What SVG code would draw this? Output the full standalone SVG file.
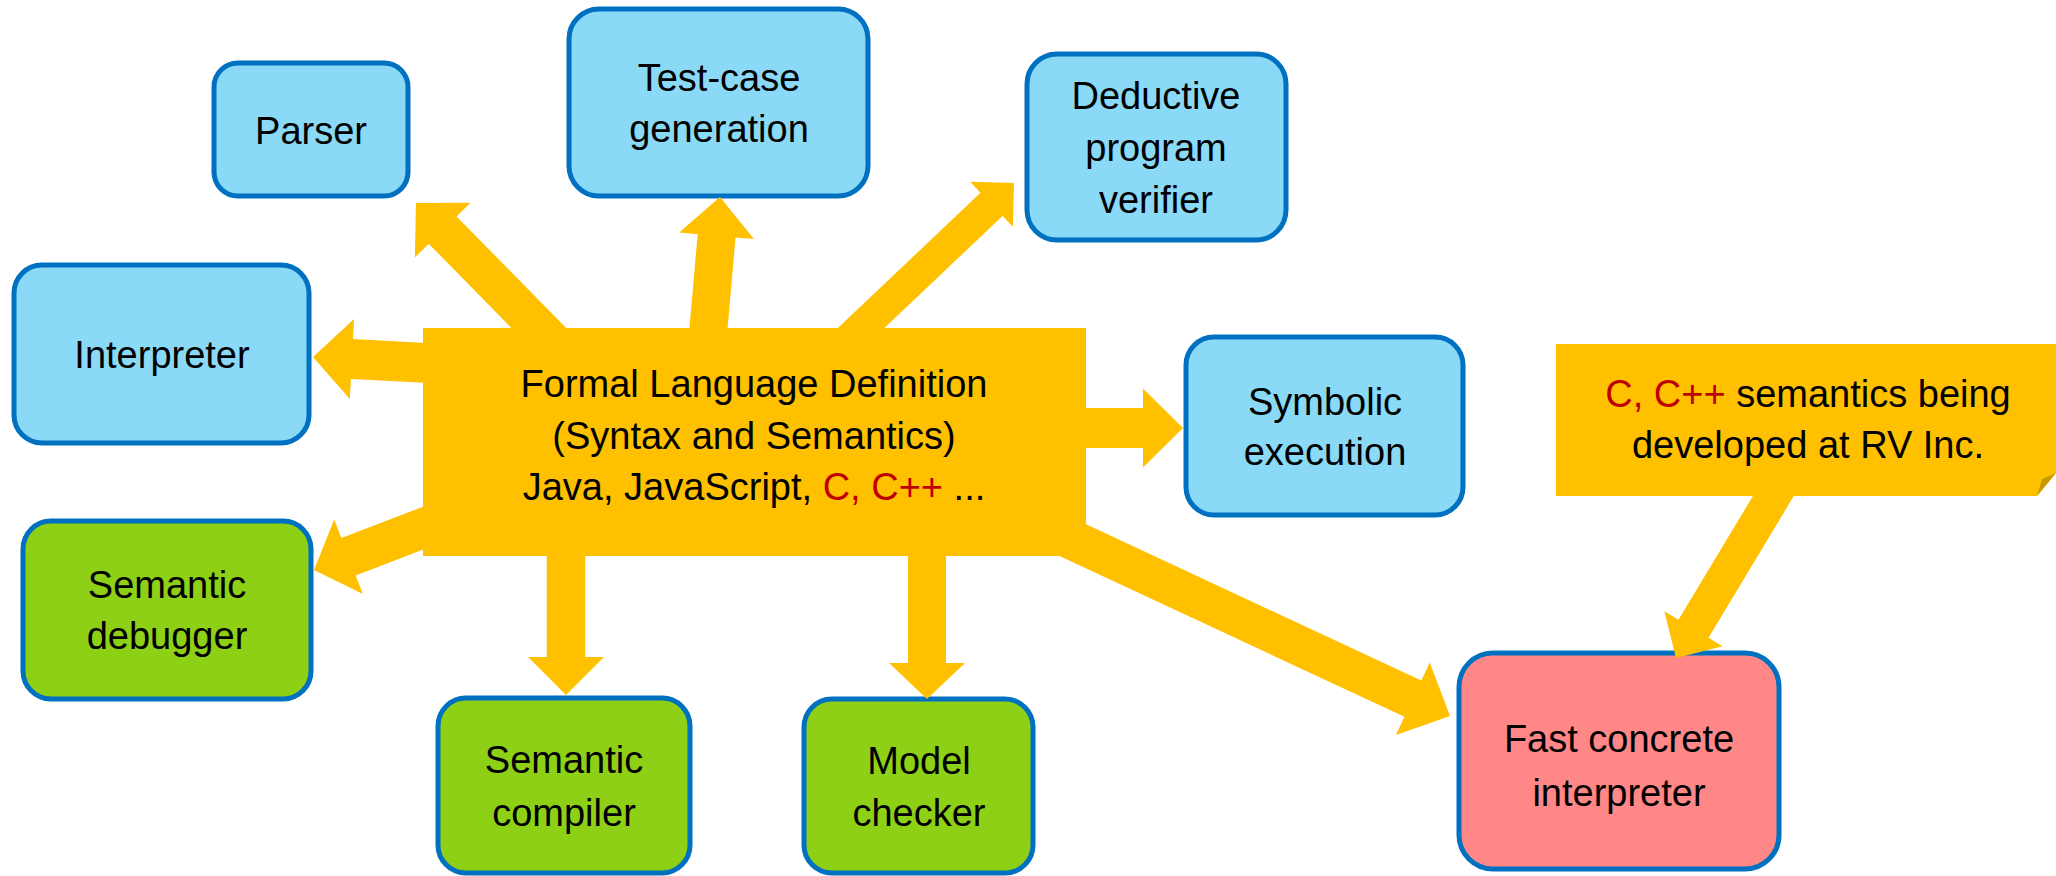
<svg xmlns="http://www.w3.org/2000/svg" width="2056" height="876" viewBox="0 0 2056 876">
<style>
  text { font-family: "Liberation Sans", Arial, sans-serif; font-size: 38px; fill: #000; text-anchor: middle; }
  .red { fill: #C00000; }
  .box { stroke: #0070C0; stroke-width: 5; }
  .blue { fill: #89D9F7; }
  .green { fill: #8ED016; }
  .pink { fill: #FF8787; }
  .orange { fill: #FFC000; }
  .arrow { fill: #FFC000; }
</style>
<rect x="0" y="0" width="2056" height="876" fill="#FFFFFF"/>

<g id="node-parser">
  <rect class="box blue" x="214" y="63" width="194" height="133" rx="24"/>
  <text x="311" y="144">Parser</text>
</g>
<g id="node-testcase">
  <rect class="box blue" x="569" y="9" width="299" height="187" rx="30"/>
  <text x="719" y="91">Test-case</text>
  <text x="719" y="142">generation</text>
</g>
<g id="node-deductive">
  <rect class="box blue" x="1027" y="54" width="259" height="186" rx="30"/>
  <text x="1156" y="109">Deductive</text>
  <text x="1156" y="161">program</text>
  <text x="1156" y="213">verifier</text>
</g>
<g id="node-interpreter">
  <rect class="box blue" x="14" y="265" width="295" height="178" rx="28"/>
  <text x="162" y="368">Interpreter</text>
</g>
<g id="node-symbolic">
  <rect class="box blue" x="1186" y="337" width="277" height="178" rx="28"/>
  <text x="1325" y="415">Symbolic</text>
  <text x="1325" y="465">execution</text>
</g>
<g id="node-debugger">
  <rect class="box green" x="23" y="521" width="288" height="178" rx="28"/>
  <text x="167" y="598">Semantic</text>
  <text x="167" y="649">debugger</text>
</g>
<g id="node-compiler">
  <rect class="box green" x="438" y="698" width="252" height="175" rx="28"/>
  <text x="564" y="773">Semantic</text>
  <text x="564" y="826">compiler</text>
</g>
<g id="node-modelchecker">
  <rect class="box green" x="804" y="699" width="229" height="174" rx="28"/>
  <text x="919" y="774">Model</text>
  <text x="919" y="826">checker</text>
</g>
<g id="node-fastinterp">
  <rect class="box pink" x="1459" y="653" width="320" height="216" rx="34"/>
  <text x="1619" y="752">Fast concrete</text>
  <text x="1619" y="806">interpreter</text>
</g>
<g id="node-formal">
  <rect class="orange" x="423" y="328" width="663" height="228"/>
  <text x="754" y="397">Formal Language Definition</text>
  <text x="754" y="449">(Syntax and Semantics)</text>
  <text x="754" y="500">Java, JavaScript, <tspan class="red">C, C++</tspan> ...</text>
</g>
<g id="node-note">
  <polygon class="orange" points="1556,344 2056,344 2056,473 2037,496 1556,496"/>
  <polygon fill="#C99A00" points="2037,496 2056,473 2042,479"/>
  <text x="1808" y="407"><tspan class="red">C, C++</tspan> semantics being</text>
  <text x="1808" y="458">developed at RV Inc.</text>
</g>

<g id="connectors">
  <polygon class="arrow" transform="translate(416,203) rotate(-134.5)" points="0,0 -38,-39 -38,-19.5 -205,-19.5 -205,19.5 -38,19.5 -38,39"/>
  <polygon class="arrow" transform="translate(720,197) rotate(-85)" points="0,0 -39,-37.5 -39,-19 -142,-19 -142,19 -39,19 -39,37.5"/>
  <polygon class="arrow" transform="translate(1014,183) rotate(-43.5)" points="0,0 -31,-31 -31,-16 -240,-16 -240,16 -31,16 -31,31"/>
  <polygon class="arrow" transform="translate(313,357) rotate(183)" points="0,0 -39,-40 -39,-20 -122,-20 -122,20 -39,20 -39,40"/>
  <polygon class="arrow" transform="translate(314,570) rotate(159)" points="0,0 -37,-40 -37,-20 -135,-20 -135,20 -37,20 -37,40"/>
  <polygon class="arrow" transform="translate(1183,428)" points="0,0 -40,-39.5 -40,-20 -105,-20 -105,20 -40,20 -40,39.5"/>
  <polygon class="arrow" transform="translate(566,695) rotate(90)" points="0,0 -38,-38 -38,-19.25 -147,-19.25 -147,19.25 -38,19.25 -38,38"/>
  <polygon class="arrow" transform="translate(927,699) rotate(90)" points="0,0 -36,-38 -36,-19 -150,-19 -150,19 -36,19 -36,38"/>
  <polygon class="arrow" transform="translate(1450,716) rotate(25)" points="0,0 -41,-40 -41,-20 -480,-20 -480,20 -41,20 -41,40"/>
  <polygon class="arrow" transform="translate(1676,658) rotate(121)" points="0,0 -34,-34 -34,-17.5 -205,-17.5 -205,17.5 -34,17.5 -34,34"/>
</g>
</svg>
